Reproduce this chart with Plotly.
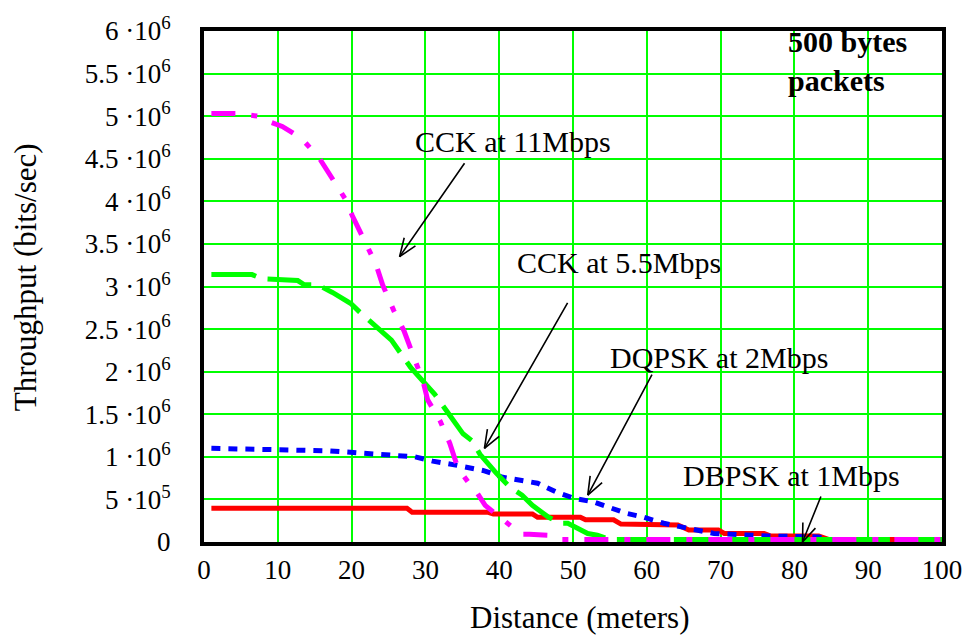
import math
import plotly.graph_objects as go

# ---------------- data ----------------
# CCK at 11Mbps (magenta)
cck11_x = [1, 4.6, 7.3, 8.4, 10.6, 13.2, 15.6, 17.3, 19.2, 20.1, 21.8, 23.3, 24.2, 25.7, 27.1,
           29.7, 30.3, 32, 33.3, 34.4, 35.9, 36.6, 38.1, 40.5, 43, 44.1, 46.7, 47.9, 50.3,
           55, 60, 70, 80, 90, 100]
cck11_y = [5.03e6, 5.03e6, 5.0e6, 4.95e6, 4.88e6, 4.74e6, 4.51e6, 4.29e6, 4.02e6, 3.83e6,
           3.53e6, 3.26e6, 3.02e6, 2.72e6, 2.48e6, 1.88e6, 1.67e6, 1.42e6, 1.16e6, 0.87e6,
           0.69e6, 0.63e6, 0.43e6, 0.26e6, 0.09e6, 0.09e6, 0.08e6, 0.03e6, 0.03e6,
           0.03e6, 0.03e6, 0.03e6, 0.03e6, 0.03e6, 0.03e6]

# CCK at 5.5Mbps (green)
cck55_x = [1, 6.5, 7.9, 10.9, 12.7, 13.6, 15.4, 17.4, 19.9, 21.1, 23.5, 25.4, 28.0, 31.3,
           33.2, 35.1, 36.3, 37.4, 39.6, 41.5, 43.1, 44.5, 46.7, 48.3, 49.3, 50.6, 52.0,
           53.3, 55, 60, 70, 80, 90, 100]
cck55_y = [3.14e6, 3.14e6, 3.09e6, 3.07e6, 3.07e6, 3.02e6, 3.02e6, 2.93e6, 2.80e6, 2.70e6,
           2.52e6, 2.37e6, 2.05e6, 1.73e6, 1.50e6, 1.27e6, 1.19e6, 1.03e6, 0.81e6, 0.64e6,
           0.55e6, 0.43e6, 0.29e6, 0.22e6, 0.22e6, 0.16e6, 0.10e6, 0.08e6, 0.03e6,
           0.03e6, 0.03e6, 0.03e6, 0.03e6, 0.03e6]

# DQPSK at 2Mbps (blue)
dqpsk_x = [1, 17, 28.6, 31, 34.3, 37.8, 40.5, 43.3, 45.2, 47.9, 50.3, 52.8, 55.1, 57.1, 59.6,
           62.3, 64.5, 69.1, 76.5, 83.3, 84.6, 90, 100]
dqpsk_y = [1.10e6, 1.07e6, 1.0e6, 0.95e6, 0.90e6, 0.84e6, 0.76e6, 0.72e6, 0.69e6, 0.58e6,
           0.51e6, 0.47e6, 0.40e6, 0.34e6, 0.29e6, 0.22e6, 0.18e6, 0.10e6, 0.07e6, 0.06e6,
           0.03e6, 0.03e6, 0.03e6]

# DBPSK at 1Mbps (red)
dbpsk_x = [1, 27.5, 28.2, 38.4, 39.2, 44.5, 45.2, 51, 51.7, 55.5, 56.5, 64.2, 65.7, 69.7,
           70.5, 75.9, 76.8, 83.3, 84.6, 100]
dbpsk_y = [0.395e6, 0.395e6, 0.35e6, 0.35e6, 0.33e6, 0.33e6, 0.29e6, 0.29e6, 0.26e6, 0.26e6,
           0.21e6, 0.20e6, 0.14e6, 0.14e6, 0.10e6, 0.10e6, 0.07e6, 0.07e6, 0.03e6, 0.03e6]

x_ticks = [0, 10, 20, 30, 40, 50, 60, 70, 80, 90, 100]
y_tickvals = [0, 0.5e6, 1e6, 1.5e6, 2e6, 2.5e6, 3e6, 3.5e6, 4e6, 4.5e6, 5e6, 5.5e6, 6e6]
y_ticktext = ["0", "5 ·10<sup>5</sup>", "1 ·10<sup>6</sup>", "1.5 ·10<sup>6</sup>",
              "2 ·10<sup>6</sup>", "2.5 ·10<sup>6</sup>", "3 ·10<sup>6</sup>",
              "3.5 ·10<sup>6</sup>", "4 ·10<sup>6</sup>", "4.5 ·10<sup>6</sup>",
              "5 ·10<sup>6</sup>", "5.5 ·10<sup>6</sup>", "6 ·10<sup>6</sup>"]

labels = ["CCK at 11Mbps", "CCK at 5.5Mbps", "DQPSK at 2Mbps", "DBPSK at 1Mbps"]
label_pos = [(28.3, 4.70e6), (42.1, 3.28e6), (54.7, 2.17e6), (64.7, 0.78e6)]
arrow_tip = [(26.5, 3.35e6), (38.0, 1.10e6), (52.0, 0.55e6), (81.1, 0.0)]
arrow_tail_offset_px = [(66, -95), (84, -147), (65, -122), (19, -47)]

FONT = "Liberation Serif"

fig = go.Figure()
fig.add_trace(go.Scatter(x=dbpsk_x, y=dbpsk_y, mode="lines",
                         line=dict(color="#ff0000", width=5)))
fig.add_trace(go.Scatter(x=dqpsk_x, y=dqpsk_y, mode="lines",
                         line=dict(color="#0000ff", width=5, dash="9px,8px")))
fig.add_trace(go.Scatter(x=cck55_x, y=cck55_y, mode="lines",
                         line=dict(color="#00ff00", width=5, dash="45px,12px")))
fig.add_trace(go.Scatter(x=cck11_x, y=cck11_y, mode="lines",
                         line=dict(color="#ff00ff", width=5, dash="24px,16px,6px,16px")))

annotations = []
for t, (lx, ly) in zip(labels, label_pos):
    annotations.append(dict(x=lx, y=ly, xref="x", yref="y", text=t, showarrow=False,
                            xanchor="left", yanchor="middle",
                            font=dict(family=FONT, size=30, color="black")))


def line_from_tip(x, y, dx, dy):
    return dict(x=x, y=y, xref="x", yref="y", ax=dx, ay=dy, text="", showarrow=True,
                arrowhead=0, arrowwidth=1.6, arrowcolor="black", standoff=0,
                startstandoff=0)


BARB_LEN = 21
BARB_ANG = math.radians(21)
for (hx, hy), (dx, dy) in zip(arrow_tip, arrow_tail_offset_px):
    annotations.append(line_from_tip(hx, hy, dx, dy))
    n = math.hypot(dx, dy)
    ux, uy = dx / n, dy / n
    for s in (1, -1):
        c, sn = math.cos(s * BARB_ANG), math.sin(s * BARB_ANG)
        bx = (ux * c - uy * sn) * BARB_LEN
        by = (ux * sn + uy * c) * BARB_LEN
        annotations.append(line_from_tip(hx, hy, bx, by))

annotations.append(dict(x=78.8, y=5.65e6, xref="x", yref="y",
                        text="<b>500 bytes<br>packets</b>", showarrow=False,
                        xanchor="left", yanchor="middle", align="left",
                        font=dict(family=FONT, size=30, color="black")))
annotations.append(dict(x=0.509, y=-0.148, xref="paper", yref="paper",
                        text="Distance (meters)", showarrow=False,
                        xanchor="center", yanchor="middle",
                        font=dict(family=FONT, size=31, color="black")))
annotations.append(dict(x=-0.242, y=0.519, xref="paper", yref="paper",
                        text="Throughput (bits/sec)", showarrow=False, textangle=-90,
                        xanchor="center", yanchor="middle",
                        font=dict(family=FONT, size=31, color="black")))

fig.update_layout(
    width=974, height=637,
    margin=dict(l=204, r=31, t=26, b=95),
    paper_bgcolor="white", plot_bgcolor="white",
    showlegend=False,
    font=dict(family=FONT, size=27, color="black"),
    annotations=annotations,
    xaxis=dict(range=[0, 100], tickvals=x_ticks, ticks="", ticklabelstandoff=1,
               showgrid=True, gridcolor="#00ff00", gridwidth=2, zeroline=False,
               showline=True, mirror=True, linecolor="black", linewidth=4,
               tickfont=dict(family=FONT, size=27, color="black")),
    yaxis=dict(range=[0, 6e6], tickvals=y_tickvals, ticktext=y_ticktext, ticks="",
               ticklabelstandoff=24,
               showgrid=True, gridcolor="#00ff00", gridwidth=2, zeroline=False,
               showline=True, mirror=True, linecolor="black", linewidth=4,
               tickfont=dict(family=FONT, size=27, color="black")),
)

fig.write_html("out.html")
